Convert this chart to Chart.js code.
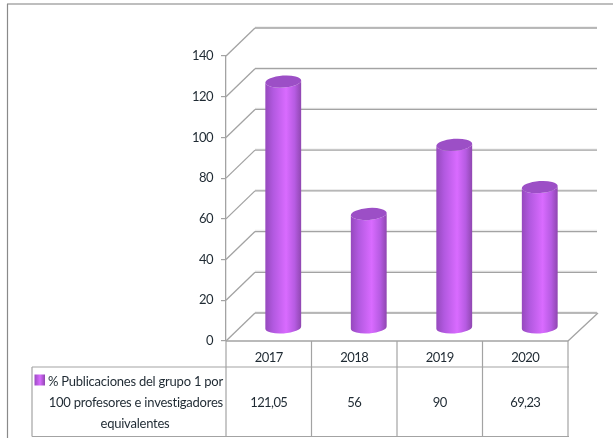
<!DOCTYPE html>
<html lang="es">
<head>
<meta charset="utf-8">
<title>Publicaciones del grupo 1</title>
<script src="https://cdn.jsdelivr.net/npm/chart.js@4"></script>
<style>
  html, body { margin: 0; background: #fff; }
  canvas { display: block; }
</style>
</head>
<body>
<canvas id="chart" width="613" height="438"></canvas>
<script>
const categories = ['2017', '2018', '2019', '2020'];
const seriesValues = [121.05, 56, 90, 69.23];
const legendLines = ['% Publicaciones del grupo 1 por', '100 profesores e investigadores', 'equivalentes'];
const seriesName = legendLines.join(' ');

const FONT = 'Lato, "Open Sans", sans-serif';
const INK = '#1f2a33';
const LINE = '#a3a3a3';
const DEPTH_X = 29;
const DEPTH_Y = 28;

function line(ctx, x1, y1, x2, y2, color, width) {
  ctx.beginPath();
  ctx.moveTo(x1, y1);
  ctx.lineTo(x2, y2);
  ctx.strokeStyle = color;
  ctx.lineWidth = width;
  ctx.stroke();
}

// Numerals on the axes sit a little tighter than the default spacing.
const spacingPlugin = {
  id: 'spacing',
  beforeDraw(chart) {
    chart.ctx.letterSpacing = '-0.5px';
  }
};

// Side wall, back wall and floor of the 3D box, tied to the value scale.
const boxPlugin = {
  id: 'box',
  beforeDatasetsDraw(chart) {
    const { ctx, chartArea: a, scales: { y } } = chart;
    ctx.save();
    y.ticks.forEach(t => {
      const py = y.getPixelForValue(t.value);
      line(ctx, a.left + DEPTH_X, py - DEPTH_Y - 1, a.right + DEPTH_X, py - DEPTH_Y - 1, '#ececec', 1.5);
      line(ctx, a.left + DEPTH_X, py - DEPTH_Y, a.right + DEPTH_X, py - DEPTH_Y, LINE, 1.3);
      line(ctx, a.left, py, a.left + DEPTH_X, py - DEPTH_Y, LINE, 1.3);
    });
    line(ctx, a.right, a.bottom, a.right + DEPTH_X + 1, a.bottom - DEPTH_Y, LINE, 1.3);
    line(ctx, a.left, a.bottom, a.right, a.bottom, LINE, 1.5);
    ctx.restore();
  }
};

// Each bar element is painted as a shaded cylinder standing mid-way into the box.
const cylinderPlugin = {
  id: 'cylinder',
  beforeDatasetDraw(chart, args) {
    const { ctx } = chart;
    const shiftX = 14.5, shiftY = 13, ry = 6, tilt = -0.07;
    ctx.save();
    args.meta.data.forEach(bar => {
      const cx = bar.x + shiftX;
      const rx = bar.width / 2;
      const top = bar.y - shiftY;
      const bottom = bar.base - shiftY;
      const body = ctx.createLinearGradient(cx - rx, 0, cx + rx, 0);
      body.addColorStop(0, '#9549bd');
      body.addColorStop(0.22, '#b259e0');
      body.addColorStop(0.58, '#d96bff');
      body.addColorStop(0.82, '#b65be2');
      body.addColorStop(1, '#8f47b0');
      ctx.beginPath();
      ctx.ellipse(cx, bottom, rx, ry, tilt, 0, Math.PI);
      ctx.ellipse(cx, top, rx, ry, tilt, Math.PI, 0, true);
      ctx.closePath();
      ctx.fillStyle = body;
      ctx.fill();
      ctx.beginPath();
      ctx.ellipse(cx, top, rx, ry, tilt, 0, Math.PI * 2);
      ctx.fillStyle = '#9c4fc6';
      ctx.fill();
    });
    ctx.restore();
    return false;
  }
};

// Data table under the plot, columns aligned with the category scale.
const tablePlugin = {
  id: 'dataTable',
  afterDraw(chart) {
    const { ctx, chartArea: a, scales: { x } } = chart;
    const headTop = a.bottom, rowTop = 367, rowBottom = 436.5, tableLeft = 32;
    const step = (a.right - a.left) / categories.length;
    ctx.save();
    // outer frame
    line(ctx, 7, 4, 613, 4, '#a8a8a8', 1.5);
    line(ctx, 7.5, 4, 7.5, 438, '#8a8a8a', 1.2);
    // rows
    line(ctx, tableLeft, rowTop, a.right + 1, rowTop, LINE, 1.2);
    line(ctx, tableLeft, rowBottom, a.right + 1, rowBottom, LINE, 1.2);
    line(ctx, tableLeft, rowTop, tableLeft, rowBottom, LINE, 1.2);
    for (let i = 0; i <= categories.length; i++) {
      const px = a.left + i * step;
      line(ctx, px, headTop, px, rowBottom, LINE, 1.2);
    }
    // series key
    const key = ctx.createLinearGradient(34, 0, 45, 0);
    key.addColorStop(0, '#9549bd');
    key.addColorStop(0.55, '#d96bff');
    key.addColorStop(1, '#8f47b0');
    ctx.fillStyle = key;
    ctx.fillRect(34.5, 374.5, 10.5, 11);
    // series name and values
    ctx.fillStyle = INK;
    ctx.font = '13px ' + FONT;
    ctx.textBaseline = 'middle';
    ctx.letterSpacing = '-0.23px';
    ctx.textAlign = 'right';
    ctx.fillText(legendLines[0], 223, 382);
    ctx.fillText(legendLines[1], 223, 402.5);
    ctx.textAlign = 'center';
    ctx.fillText(legendLines[2], 135, 424);
    ctx.letterSpacing = '-0.6px';
    seriesValues.forEach((v, i) => {
      ctx.fillText(String(v).replace('.', ','), x.getPixelForValue(i), 402.5);
    });
    ctx.restore();
  }
};

new Chart(document.getElementById('chart'), {
  type: 'bar',
  data: {
    labels: categories,
    datasets: [{ label: seriesName, data: seriesValues, backgroundColor: '#c060f0' }]
  },
  plugins: [spacingPlugin, boxPlugin, cylinderPlugin, tablePlugin],
  options: {
    responsive: false,
    animation: false,
    layout: { padding: { top: 56, right: 45, left: 0, bottom: 0 } },
    datasets: { bar: { categoryPercentage: 1, barPercentage: 0.42 } },
    plugins: { legend: { display: false }, title: { display: false }, tooltip: { enabled: false } },
    scales: {
      x: {
        afterFit(s) { s.height = 97; },
        grid: { display: false },
        border: { display: false },
        ticks: { color: INK, font: { family: FONT, size: 13 }, padding: 1, maxRotation: 0 }
      },
      y: {
        min: 0,
        max: 140,
        afterFit(s) { s.width = 226; },
        grid: { drawOnChartArea: false, color: LINE, tickLength: 5, lineWidth: 1.2 },
        border: { color: LINE, width: 1.3 },
        ticks: { stepSize: 20, color: INK, font: { family: FONT, size: 13 }, padding: 8 }
      }
    }
  }
});
</script>
</body>
</html>
